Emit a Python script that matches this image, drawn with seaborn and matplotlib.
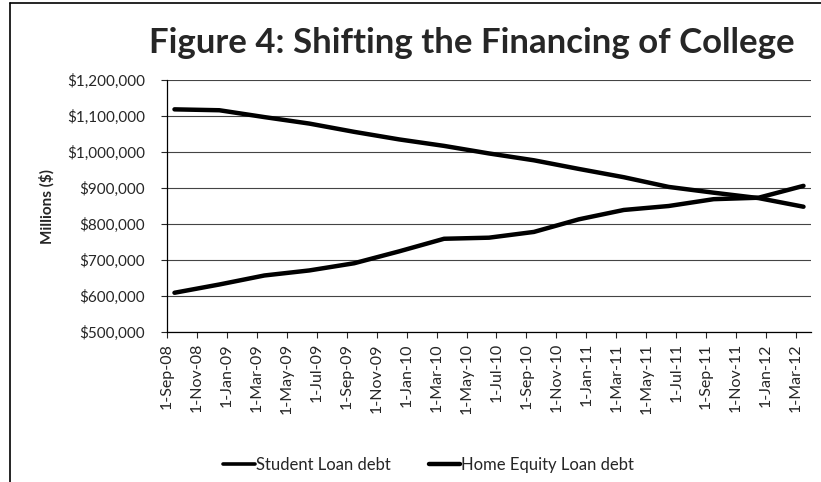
import matplotlib
matplotlib.use("Agg")
import matplotlib.pyplot as plt
from matplotlib.lines import Line2D
from matplotlib.ticker import FuncFormatter
import seaborn as sns
import pandas as pd

# quarterly balances, millions of dollars
dates = pd.date_range("2008-09-01", "2012-03-01", freq="3MS")
student_loan = [609000, 632000, 657000, 671000, 691000, 724000, 759000, 762000,
                778000, 813000, 839000, 850000, 869000, 873000, 906000]
home_equity = [1118500, 1116000, 1097000, 1079000, 1056000, 1035000, 1017000, 996000,
               977000, 953000, 930000, 903000, 887000, 872000, 848000]

tick_dates = pd.date_range("2008-09-01", "2012-03-01", freq="2MS")

sns.set_style("white")
plt.rcParams['font.family'] = ['Lato', 'DejaVu Sans']


def month_idx(d):
    return (d.year - 2008) * 12 + d.month - 9


df = pd.DataFrame({
    'month': [month_idx(d) for d in dates] * 2,
    'value': student_loan + home_equity,
    'series': ['Student Loan debt'] * len(dates) + ['Home Equity Loan debt'] * len(dates),
})

fig = plt.figure(figsize=(8.21, 4.82), dpi=100)
ax = fig.add_axes([0.2034, 0.3112, 0.7844, 0.5228])

sns.lineplot(data=df, x='month', y='value', hue='series',
             palette=['black', 'black'], linewidth=3.2, ax=ax, legend=False)

ax.set_xlim(-0.5, 42.5)
ax.set_ylim(500000, 1200000)
ax.set_yticks(range(500000, 1200001, 100000))
ax.yaxis.set_major_formatter(FuncFormatter(lambda v, p: f"${int(v):,}"))
ax.set_xticks([month_idx(d) - 0.5 for d in tick_dates])
ax.set_xticklabels([f"{d.day}-{d.strftime('%b-%y')}" for d in tick_dates],
                   rotation=90, fontsize=11.5)
ax.tick_params(axis='y', labelsize=11, direction='out', length=4, width=0.8,
               left=True, pad=12)
ax.tick_params(axis='x', direction='out', length=4, width=0.8, bottom=True, pad=4)
ax.grid(axis='y', color='#444444', linewidth=0.8)
ax.grid(axis='x', visible=False)
for s in ['top', 'right']:
    ax.spines[s].set_visible(False)
for s in ['left', 'bottom']:
    ax.spines[s].set_color('black')
    ax.spines[s].set_linewidth(0.9)

ax.set_xlabel('')
ax.set_ylabel('Millions ($)', fontsize=11, fontweight='bold', labelpad=9)

fig.suptitle('Figure 4: Shifting the Financing of College', x=0.575, y=0.945,
             fontsize=25, fontweight='bold')

handles = [Line2D([], [], color='black', linewidth=2.6),
           Line2D([], [], color='black', linewidth=3.2)]
fig.legend(handles, ['Student Loan debt', 'Home Equity Loan debt'],
           loc='center', bbox_to_anchor=(0.522, 0.035), ncol=2, frameon=False,
           fontsize=12, handlelength=1.9, handletextpad=0.05, columnspacing=2.3)

# outer chart-area border (left and top)
fig.add_artist(Line2D([0.012, 0.012], [0, 0.994], color='black', linewidth=1.2))
fig.add_artist(Line2D([0.012, 1], [0.994, 0.994], color='black', linewidth=1.2))

fig.savefig('out.png', dpi=100)
